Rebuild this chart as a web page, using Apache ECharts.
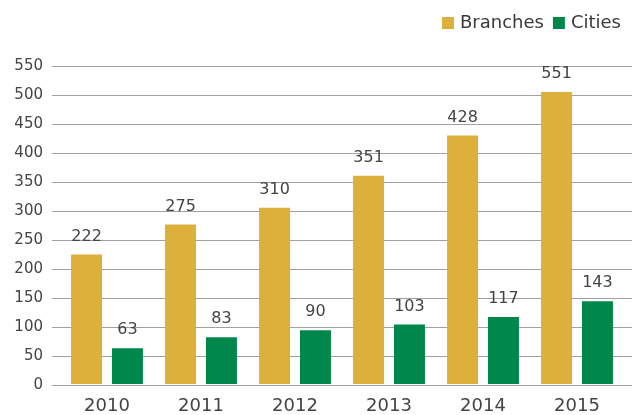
<!DOCTYPE html>
<html>
<head>
<meta charset="utf-8">
<script src="https://cdn.jsdelivr.net/npm/echarts@6/dist/echarts.min.js"></script>
<style>
  html, body { margin: 0; padding: 0; background: #fff; }
  #chart { width: 632px; height: 415px; }
</style>
</head>
<body>
<div id="chart"></div>
<script>
// years on the x axis
var years = ['2010', '2011', '2012', '2013', '2014', '2015']
// bar heights as drawn in the picture
var branchBars = [224, 276, 305, 360, 430, 505]
var cityBars = [62, 81, 93, 103, 116, 143]
// numbers printed above the bars
var branchLabels = [222, 275, 310, 351, 428, 551]
var cityLabels = [63, 83, 90, 103, 117, 143]

var gold = '#DCB03A'
var green = '#00874B'
var font = '"DejaVu Sans", sans-serif'

var myChart = echarts.init(document.getElementById('chart'))
var option = {
  animation: false,
  textStyle: { fontFamily: font },
  legend: {
    right: 6,
    top: 9,
    itemWidth: 12,
    itemHeight: 12,
    itemGap: 9,
    icon: 'rect',
    textStyle: { fontSize: 18, color: '#3a3a3a', fontFamily: font, padding: [0, 0, 0, 1] },
    data: ['Branches', 'Cities']
  },
  grid: [
    // grid lines only, a bit wider than the bars area
    { left: 52, right: 0, top: 66, bottom: 30 },
    { left: 60, right: 8, top: 66, bottom: 30 }
  ],
  xAxis: [
    { gridIndex: 0, type: 'value', min: 0, max: 1, show: false },
    {
      gridIndex: 1,
      type: 'category',
      data: years,
      axisLine: { show: false },
      axisTick: { show: false },
      axisLabel: { fontSize: 18, color: '#444', margin: 13, fontFamily: font }
    }
  ],
  yAxis: [
    {
      gridIndex: 0,
      type: 'value',
      min: 0,
      max: 550,
      interval: 50,
      axisLine: { show: false },
      axisTick: { show: false },
      axisLabel: { fontSize: 15, color: '#444', margin: 9, fontFamily: font },
      splitLine: { lineStyle: { color: '#a0a0a0', width: 1 } }
    },
    {
      gridIndex: 1,
      type: 'value',
      min: 0,
      max: 550,
      interval: 50,
      axisLine: { show: false },
      axisTick: { show: false },
      axisLabel: { show: false },
      splitLine: { show: false }
    }
  ],
  series: [
    {
      name: 'Branches',
      type: 'bar',
      xAxisIndex: 1,
      yAxisIndex: 1,
      barWidth: 31,
      barGap: '32%',
      itemStyle: { color: gold },
      label: {
        show: true,
        position: 'top',
        distance: 10,
        fontSize: 16,
        color: '#444',
        fontFamily: font,
        formatter: function (p) { return branchLabels[p.dataIndex] }
      },
      data: branchBars
    },
    {
      name: 'Cities',
      type: 'bar',
      xAxisIndex: 1,
      yAxisIndex: 1,
      barWidth: 31,
      barGap: '32%',
      itemStyle: { color: green },
      label: {
        show: true,
        position: 'top',
        distance: 10,
        fontSize: 16,
        color: '#444',
        fontFamily: font,
        formatter: function (p) { return cityLabels[p.dataIndex] }
      },
      data: cityBars
    }
  ]
}
myChart.setOption(option)
</script>
</body>
</html>
